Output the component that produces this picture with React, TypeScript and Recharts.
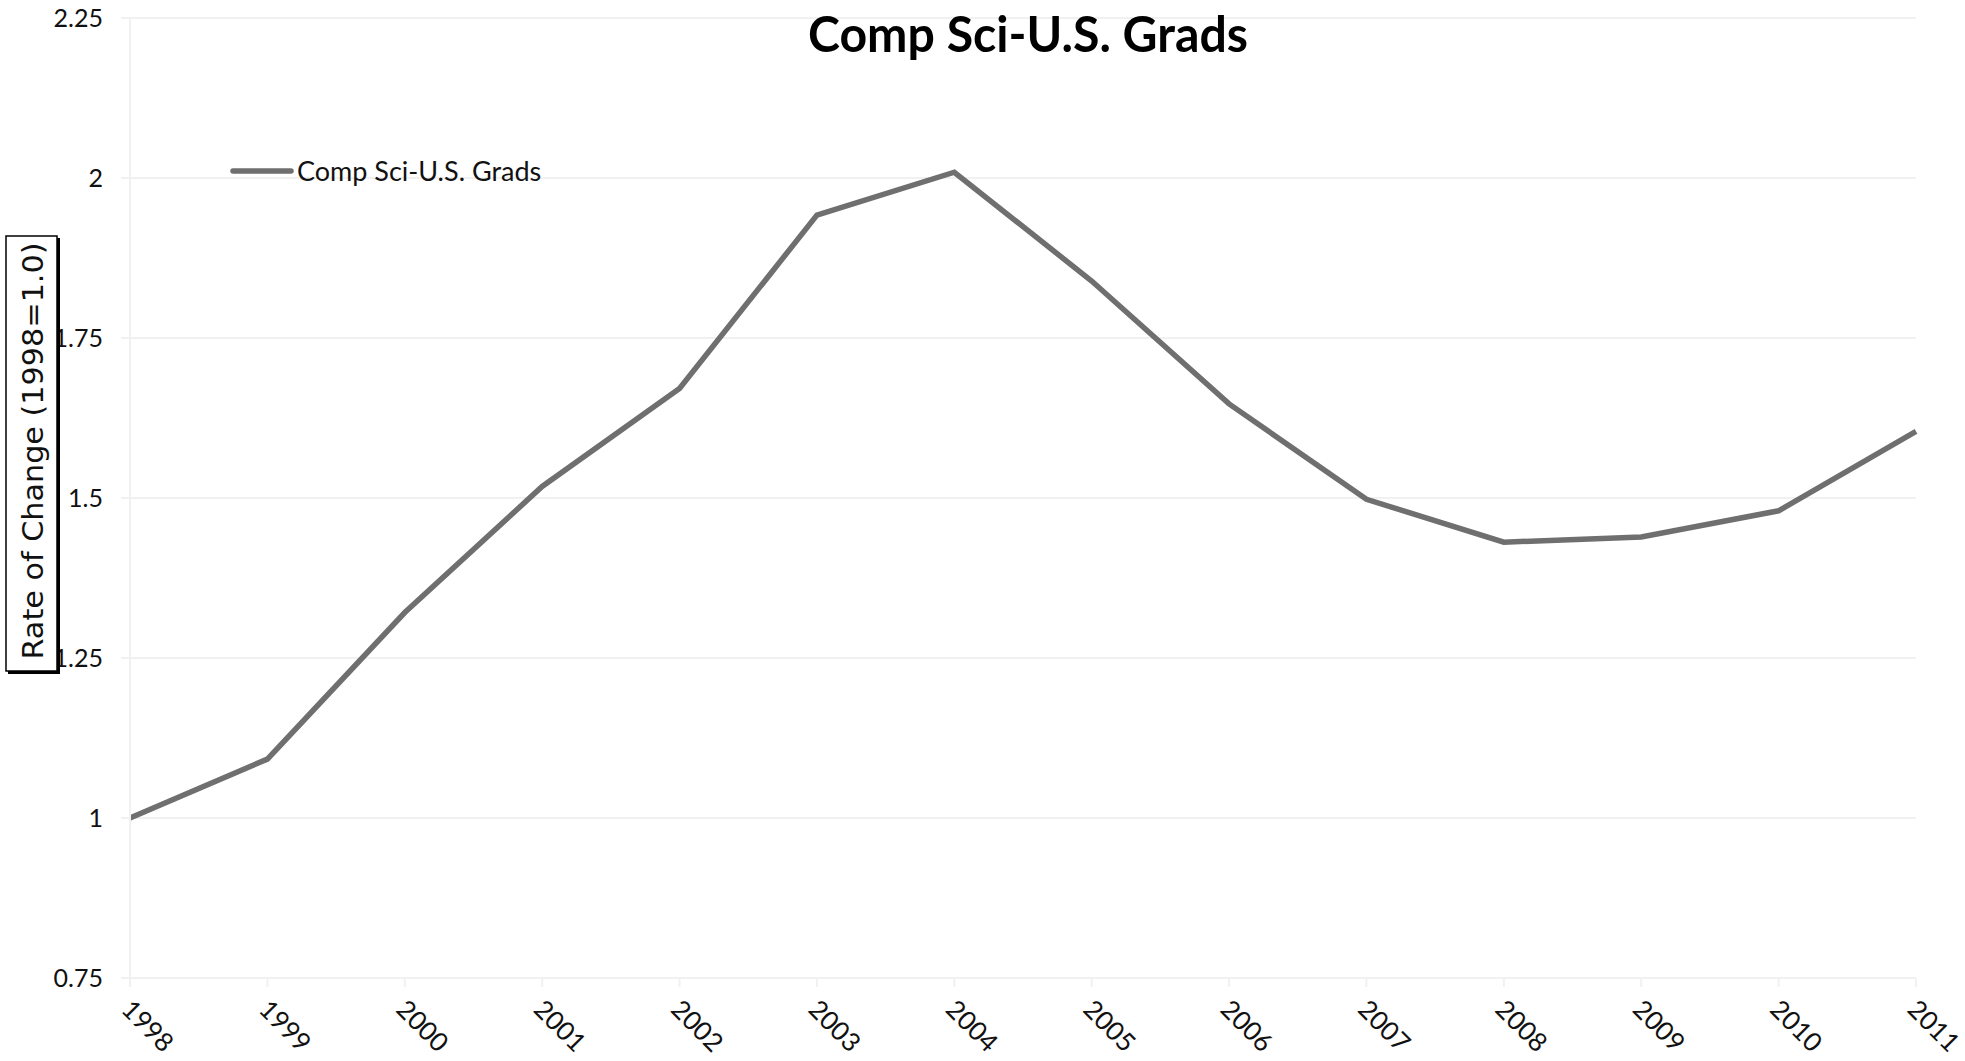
import React from 'react';
import { LineChart, Line, XAxis, YAxis, CartesianGrid, Legend } from 'recharts';

const years = ['1998', '1999', '2000', '2001', '2002', '2003', '2004', '2005', '2006', '2007', '2008', '2009', '2010', '2011'];
const gradsRate = [1.0, 1.092, 1.321, 1.518, 1.671, 1.942, 2.009, 1.839, 1.647, 1.498, 1.431, 1.439, 1.48, 1.604];
const yTicks = [0.75, 1, 1.25, 1.5, 1.75, 2, 2.25];

const SERIES_NAME = 'Comp Sci-U.S. Grads';
const LINE_COLOR = '#6f6f6f';
const GRID_COLOR = '#f1f1f1';
const FONT = 'Lato, "Open Sans", sans-serif';

const data = years.map((year, i) => ({ year, rate: gradsRate[i] }));

const XTick = (props: any) => {
  const { x, y, payload } = props;
  const ax = x - 10;
  const ay = y + 22;
  return (
    <text
      x={ax}
      y={ay}
      transform={`rotate(45, ${ax}, ${ay})`}
      textAnchor="start"
      fontSize={26}
      fontFamily={FONT}
      fill="#111"
    >
      {payload.value}
    </text>
  );
};

const LegendContent = () => (
  <div style={{ display: 'flex', alignItems: 'center', fontFamily: FONT, fontSize: 27, color: '#111', whiteSpace: 'nowrap' }}>
    <svg width={64} height={12}>
      <line x1={3} y1={6} x2={61} y2={6} stroke={LINE_COLOR} strokeWidth={5.5} strokeLinecap="round" />
    </svg>
    <span style={{ marginLeft: 3 }}>{SERIES_NAME}</span>
  </div>
);

export default function App() {
  return (
    <div style={{ position: 'absolute', left: 0, top: 0, width: 1965, height: 1061, background: '#fff' }}>
      <LineChart width={1965} height={1061} data={data} margin={{ top: 18, right: 49, left: 0, bottom: 0 }}>
        <CartesianGrid vertical={false} stroke={GRID_COLOR} strokeWidth={2} />
        <XAxis
          dataKey="year"
          height={83}
          tick={<XTick />}
          tickSize={9}
          tickMargin={2}
          axisLine={{ stroke: GRID_COLOR, strokeWidth: 2 }}
          tickLine={{ stroke: GRID_COLOR, strokeWidth: 2 }}
          interval={0}
        />
        <YAxis
          width={130}
          domain={[0.75, 2.25]}
          ticks={yTicks}
          tickSize={9}
          tickMargin={18}
          axisLine={{ stroke: GRID_COLOR, strokeWidth: 2 }}
          tickLine={{ stroke: GRID_COLOR, strokeWidth: 2 }}
          tick={{ fill: '#111', fontSize: 25, fontFamily: FONT }}
          allowDataOverflow
        />
        <Legend
          layout="vertical"
          align="center"
          verticalAlign="middle"
          content={<LegendContent />}
          wrapperStyle={{ position: 'absolute', left: 230, top: 154, width: 'auto' }}
        />
        <Line
          type="linear"
          dataKey="rate"
          name={SERIES_NAME}
          stroke={LINE_COLOR}
          strokeWidth={5.5}
          dot={false}
          activeDot={false}
          isAnimationActive={false}
        />
      </LineChart>
      <svg width={1965} height={1061} style={{ position: 'absolute', left: 0, top: 0, pointerEvents: 'none' }}>
        <text
          x={1028}
          y={52}
          textAnchor="middle"
          fontFamily={FONT}
          fontWeight="bold"
          fontSize={49}
          textLength={440}
          lengthAdjust="spacingAndGlyphs"
          fill="#000"
        >
          Comp Sci-U.S. Grads
        </text>
        <rect x={8} y={238} width={52} height={436} fill="#000" />
        <rect x={6} y={236} width={51} height={435} fill="#fff" stroke="#000" strokeWidth={1.5} />
        <text
          x={43}
          y={451}
          transform="rotate(-90, 43, 451)"
          textAnchor="middle"
          fontFamily='"DejaVu Sans", sans-serif'
          fontSize={29}
          textLength={417}
          lengthAdjust="spacingAndGlyphs"
          fill="#111"
        >
          Rate of Change (1998=1.0)
        </text>
      </svg>
    </div>
  );
}
